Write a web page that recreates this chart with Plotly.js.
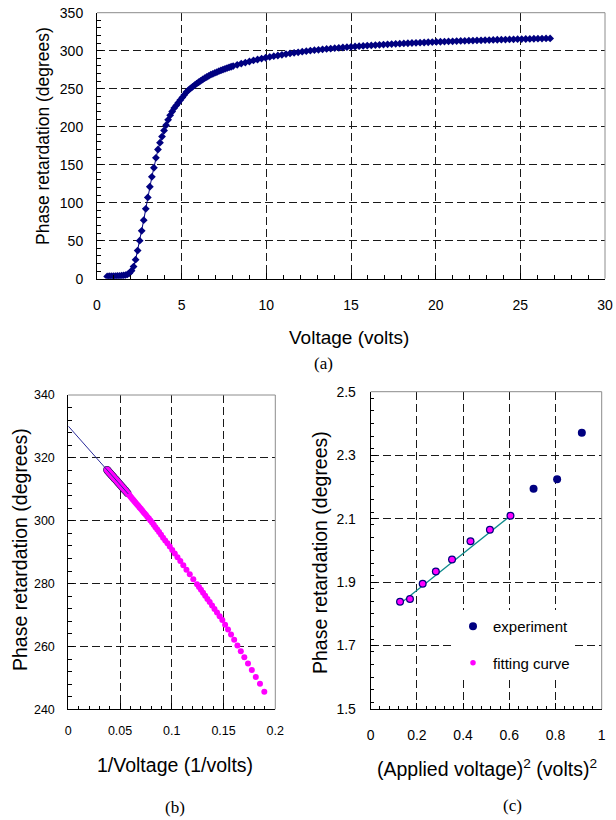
<!DOCTYPE html>
<html>
<head>
<meta charset="utf-8">
<script src="https://cdn.plot.ly/plotly-3.0.1.min.js"></script>
<style>html,body{margin:0;padding:0;background:#fff;}#chart{width:616px;height:820px;}</style>
</head>
<body>
<div id="chart"></div>
<script>
// ---- (a) phase retardation vs applied voltage ----
const voltage = [0.60,0.72,0.84,0.96,1.08,1.20,1.32,1.44,1.56,1.68,1.80,1.92,2.04,2.16,2.28,2.40,2.52,2.64,2.76,2.88,3.00,3.12,3.24,3.36,3.48,3.60,3.72,3.84,3.96,4.08,4.20,4.32,4.44,4.56,4.68,4.80,4.92,5.04,5.16,5.28,5.40,5.52,5.64,5.76,5.88,6.00,6.12,6.24,6.36,6.48,6.60,6.72,6.84,6.96,7.08,7.20,7.32,7.44,7.56,7.68,7.80,7.92,8.04,
  8.28,8.52,8.76,9.00,9.24,9.48,9.72,9.96,10.20,10.44,10.68,10.92,11.16,11.40,11.64,11.88,12.12,12.36,12.60,12.84,13.08,13.32,13.56,13.80,14.04,14.28,14.52,14.76,15.00,15.24,15.48,15.72,15.96,16.20,16.44,16.68,16.92,17.16,17.40,17.64,17.88,18.12,18.36,18.60,18.84,19.08,19.32,19.56,19.80,20.04,20.28,20.52,20.76,21.00,21.24,21.48,21.72,21.96,22.20,22.44,22.68,22.92,23.16,23.40,23.64,23.88,24.12,24.36,24.60,24.84,25.08,25.32,25.56,25.80,26.04,26.28,26.52,26.76];
const phase = [3.0,3.2,3.3,3.4,3.5,3.6,3.7,3.9,4.2,4.8,5.8,7.5,10.5,16,25,37,50,63,77,92,107,121,134,146,159,170,179,187,195,202,209,215,220,224.5,228,231.5,235,238.5,242,245.6,248.1,250.3,252.5,254.6,256.6,258.5,260.3,262.1,263.8,265.4,266.9,268.4,269.6,270.8,271.9,273.0,274.1,275.1,276.1,277.1,278.0,278.9,279.8,
  281.4,283.0,284.4,285.8,287.2,288.4,289.6,290.7,291.8,292.8,293.7,294.6,295.5,296.4,297.2,297.9,298.7,299.4,300.1,300.7,301.2,301.8,302.3,302.8,303.3,303.8,304.2,304.7,305.1,305.5,305.9,306.3,306.7,307.0,307.4,307.7,308.1,308.4,308.7,309.0,309.3,309.6,309.8,310.1,310.4,310.6,310.8,311.1,311.3,311.5,311.8,312.0,312.2,312.4,312.6,312.8,313.0,313.2,313.3,313.5,313.7,313.9,314.0,314.2,314.4,314.5,314.7,314.8,315.0,315.1,315.3,315.4,315.5,315.7,315.8,315.9,316.1,316.2];

// ---- (b) linear fit of phase vs 1/V (high-voltage region) ----
const fitBX = [0, 0.058];
const fitBY = [330.1, 308.5];
const invVMax = 0.19;     // points shown in (b)
const invVFitMax = 0.058; // region used for the fit

// ---- (c) low-voltage phase vs V^2 ----
const expX = [0.127,0.170,0.225,0.282,0.352,0.432,0.516,0.605,0.705,0.807,0.914];
const expY = [1.838,1.847,1.895,1.933,1.971,2.029,2.065,2.109,2.194,2.224,2.371];
const fitPtX = [0.127,0.170,0.225,0.282,0.352,0.432,0.516,0.605];
const fitPtY = [1.838,1.847,1.895,1.933,1.971,2.029,2.065,2.109];
const fitLineX = [0.127, 0.605];
const fitLineY = [1.832, 2.109];

// derived data for (b)
const bX = [], bY = [], bFX = [], bFY = [];
voltage.forEach((v, i) => {
  const u = 1 / v;
  if (u <= invVMax) { bX.push(u); bY.push(phase[i]); }
  if (u <= invVFitMax) { bFX.push(u); bFY.push(phase[i]); }
});

const NAVY = '#000080', MAG = '#ff00ff', TEAL = '#0e8a8a';
const W = 616, H = 820;
const px = x => x / W, py = y => 1 - y / H;
const FONT = 'Liberation Sans, Arial, sans-serif';

const traces = [
  {x: voltage, y: phase, xaxis: 'x', yaxis: 'y', mode: 'lines+markers', showlegend: false,
   line: {color: NAVY, width: 1}, marker: {symbol: 'diamond', size: 6, color: NAVY}},
  {x: bFX, y: bFY, xaxis: 'x2', yaxis: 'y2', mode: 'markers', showlegend: false,
   marker: {size: 7.5, color: '#4a1a7a'}},
  {x: bX, y: bY, xaxis: 'x2', yaxis: 'y2', mode: 'markers', showlegend: false,
   marker: {size: 6, color: MAG}},
  {x: fitBX, y: fitBY, xaxis: 'x2', yaxis: 'y2', mode: 'lines', showlegend: false,
   line: {color: '#2a2a9a', width: 1}},
  {x: fitLineX, y: fitLineY, xaxis: 'x3', yaxis: 'y3', mode: 'lines', showlegend: false,
   line: {color: TEAL, width: 1.2}},
  {x: expX, y: expY, xaxis: 'x3', yaxis: 'y3', mode: 'markers', name: 'experiment',
   legendgroup: 'g1', marker: {size: 8, color: NAVY}},
  {x: fitPtX, y: fitPtY, xaxis: 'x3', yaxis: 'y3', mode: 'markers', name: 'fitting curve',
   legendgroup: 'g2', marker: {size: 5.5, color: MAG}}
];

function axis(domain, range, dtick, minorDtick, fontSize, standoff, anchor) {
  return {
    domain: domain, range: range, dtick: dtick, tick0: range[0], anchor: anchor,
    showline: true, linecolor: '#000', linewidth: 1,
    ticks: 'inside', ticklen: 6, tickcolor: '#000', tickwidth: 1,
    showgrid: true, gridcolor: '#1a1a1a', gridwidth: 1, griddash: '8px,4px',
    zeroline: false, fixedrange: true,
    tickfont: {family: FONT, size: fontSize, color: '#000'},
    ticklabelstandoff: standoff,
    minor: {dtick: minorDtick, ticks: 'inside', ticklen: 3.5, tickcolor: '#000', showgrid: false}
  };
}

const layout = {
  width: W, height: H,
  margin: {l: 0, r: 0, t: 0, b: 0},
  paper_bgcolor: '#fff', plot_bgcolor: '#fff',
  font: {family: FONT, color: '#000'},
  xaxis:  axis([px(97), px(605)], [0, 30], 5, 1, 14, 13, 'y'),
  yaxis:  axis([py(278.7), py(12.7)], [0, 350], 50, 10, 14, 10, 'x'),
  xaxis2: axis([px(68.3), px(275.3)], [0, 0.2], 0.05, 0.01, 12.5, 10, 'y2'),
  yaxis2: axis([py(709.3), py(395)], [240, 340], 20, 4, 12.5, 10, 'x2'),
  xaxis3: axis([px(370.7), px(601.7)], [0, 1], 0.2, 0.04, 14, 13, 'y3'),
  yaxis3: axis([py(709), py(391.7)], [1.5, 2.5], 0.2, 0.04, 14, 11, 'x3'),
  showlegend: true,
  legend: {x: px(453), y: py(610), xanchor: 'left', yanchor: 'top',
           bgcolor: '#fff', borderwidth: 0, traceorder: 'grouped', tracegroupgap: 14,
           font: {family: FONT, size: 15, color: '#000'}},
  shapes: [],
  annotations: []
};

// gray top/right plot-area borders
[['x', 'y'], ['x2', 'y2'], ['x3', 'y3']].forEach(([xa, ya]) => {
  layout.shapes.push({type: 'line', xref: xa + ' domain', yref: ya + ' domain', x0: 0, x1: 1, y0: 1, y1: 1,
                      line: {color: '#8c8c8c', width: 1}, layer: 'above'});
  layout.shapes.push({type: 'line', xref: xa + ' domain', yref: ya + ' domain', x0: 1, x1: 1, y0: 0, y1: 1,
                      line: {color: '#8c8c8c', width: 1}, layer: 'above'});
});

function ann(text, x, y, size, rot, family) {
  layout.annotations.push({text: text, x: px(x), y: py(y), xref: 'paper', yref: 'paper',
    xanchor: 'center', yanchor: 'middle', showarrow: false, textangle: rot || 0,
    font: {family: family || FONT, size: size, color: '#000'}});
}
ann('Phase retardation (degrees)', 43, 136, 17.5, -90);
ann('Voltage (volts)', 348.5, 338, 19);
ann('(a)', 323, 364, 17, 0, 'Liberation Serif, Times New Roman, serif');
ann('Phase retardation (degrees)', 20, 550, 19.5, -90);
ann('1/Voltage (1/volts)', 175.3, 765, 19.5);
ann('(b)', 175, 807, 17, 0, 'Liberation Serif, Times New Roman, serif');
ann('Phase retardation (degrees)', 320, 552, 19.5, -90);
ann('(Applied voltage)<sup>2</sup> (volts)<sup>2</sup>', 486.5, 768, 19.5);
ann('(c)', 512, 805, 17, 0, 'Liberation Serif, Times New Roman, serif');

Plotly.newPlot('chart', traces, layout, {displayModeBar: false, staticPlot: true});
</script>
</body>
</html>
